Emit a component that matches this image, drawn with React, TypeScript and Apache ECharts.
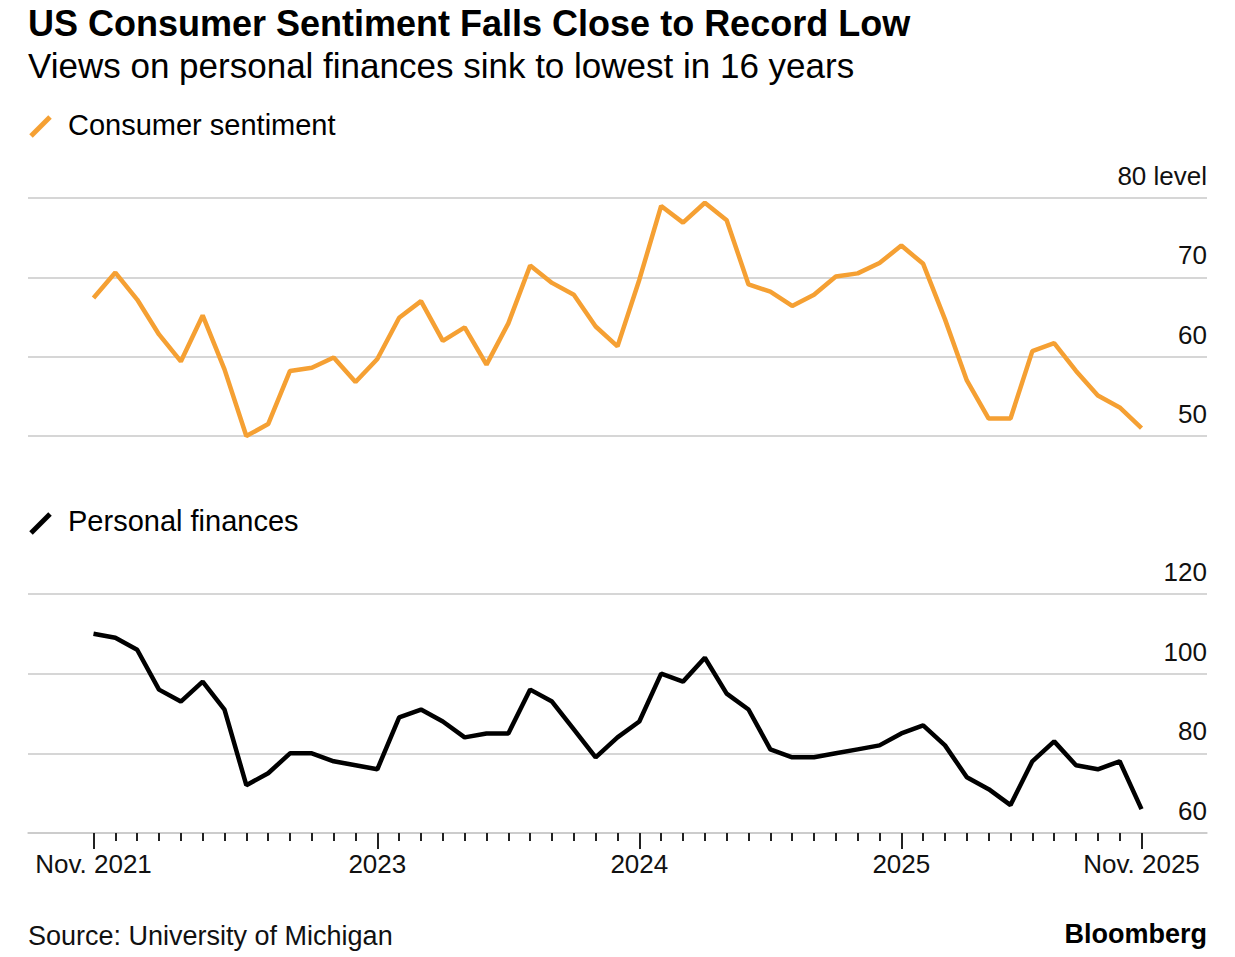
import React, { useEffect, useRef } from "react";
import * as echarts from "echarts";

// Monthly, Nov 2021 .. Nov 2025 (index 0..48)
const startYear = 2021;
const startMonth = 10; // November (0-based)
const months: string[] = [];
for (let i = 0; i < 49; i++) {
  const m = (startMonth + i) % 12;
  const y = startYear + Math.floor((startMonth + i) / 12);
  months.push(`${y}-${String(m + 1).padStart(2, "0")}`);
}

const sentiment = [
  67.4, 70.6, 67.2, 62.8, 59.4, 65.2, 58.4, 50.0, 51.5, 58.2, 58.6, 59.9,
  56.8, 59.7, 64.9, 67.0, 62.0, 63.7, 59.0, 64.2, 71.5, 69.3, 67.8, 63.8,
  61.3, 69.7, 79.0, 76.9, 79.4, 77.2, 69.1, 68.2, 66.4, 67.8, 70.1, 70.5,
  71.8, 74.0, 71.7, 64.7, 57.0, 52.2, 52.2, 60.7, 61.7, 58.2, 55.1, 53.6,
  51.0,
];

const finances = [
  110, 109, 106, 96, 93, 98, 91, 72, 75, 80, 80, 78,
  77, 76, 89, 91, 88, 84, 85, 85, 96, 93, 86, 79,
  84, 88, 100, 98, 104, 95, 91, 81, 79, 79, 80, 81,
  82, 85, 87, 82, 74, 71, 67, 78, 83, 77, 76, 78,
  66,
];

const xLabelIndex = [0, 13, 25, 37, 48];
const xLabelText = ["Nov. 2021", "2023", "2024", "2025", "Nov. 2025"];

const topTicks = [50, 60, 70, 80];
const bottomTicks = [60, 80, 100, 120];

const ORANGE = "#F5A033";
const BLACK = "#000000";
const GRID = "#c9c9c9";
const FONT = '"Liberation Sans", Arial, Helvetica, sans-serif';

export default function App() {
  const ref = useRef<HTMLDivElement>(null);

  useEffect(() => {
    if (!ref.current) return;
    const chart = echarts.init(ref.current, undefined, { renderer: "svg" });

    const yAxisCommon = (ticks: number[], unitTop?: string) => ({
      type: "value",
      position: "right",
      min: ticks[0],
      max: ticks[ticks.length - 1],
      interval: ticks[1] - ticks[0],
      axisLine: { show: false },
      axisTick: { show: false },
      splitLine: { show: true, lineStyle: { color: GRID, width: 1.5 } },
      axisLabel: {
        inside: true,
        margin: 0,
        align: "right",
        verticalAlign: "bottom",
        padding: [0, 0, 9, 0],
        lineHeight: 26,
        color: "#111",
        fontFamily: FONT,
        fontSize: 26,
        formatter: (v: number) =>
          unitTop && v === ticks[ticks.length - 1] ? `${v} ${unitTop}` : `${v}`,
      },
    });

    const tickIdx = months.map((_, i) => i);

    const option: any = {
      animation: false,
      textStyle: { fontFamily: FONT },
      grid: [
        { left: 28, right: 28, top: 198, height: 238 },
        { left: 28, right: 28, top: 594, height: 239 },
      ],
      xAxis: [
        {
          type: "value",
          gridIndex: 0,
          min: -3,
          max: 51,
          show: false,
          splitLine: { show: false },
        },
        {
          type: "value",
          gridIndex: 1,
          min: -3,
          max: 51,
          position: "bottom",
          axisLine: { show: true, lineStyle: { color: GRID, width: 1.5 } },
          axisTick: {
            show: true,
            customValues: tickIdx,
            length: 8,
            lineStyle: { color: "#222", width: 2 },
          },
          axisLabel: { show: false },
          splitLine: { show: false },
        },
        {
          type: "value",
          gridIndex: 1,
          min: -3,
          max: 51,
          position: "bottom",
          axisLine: { show: false },
          axisTick: {
            show: true,
            customValues: xLabelIndex,
            length: 16,
            lineStyle: { color: "#222", width: 2 },
          },
          axisLabel: {
            show: true,
            customValues: xLabelIndex,
            margin: 18,
            color: "#111",
            fontFamily: FONT,
            fontSize: 26,
            formatter: (v: number) => {
              const k = xLabelIndex.indexOf(Math.round(v));
              return k >= 0 ? xLabelText[k] : "";
            },
          },
          splitLine: { show: false },
        },
      ],
      yAxis: [
        { ...yAxisCommon(topTicks, "level"), gridIndex: 0 },
        { ...yAxisCommon(bottomTicks), gridIndex: 1 },
      ],
      series: [
        {
          name: "Consumer sentiment",
          type: "line",
          xAxisIndex: 0,
          yAxisIndex: 0,
          data: sentiment.map((v, i) => [i, v]),
          showSymbol: false,
          lineStyle: { color: ORANGE, width: 4.5 },
          itemStyle: { color: ORANGE },
        },
        {
          name: "Personal finances",
          type: "line",
          xAxisIndex: 1,
          yAxisIndex: 1,
          data: finances.map((v, i) => [i, v]),
          showSymbol: false,
          lineStyle: { color: BLACK, width: 4.5 },
          itemStyle: { color: BLACK },
        },
      ],
      graphic: [
        {
          type: "text",
          x: 28,
          y: 23,
          style: {
            text: "US Consumer Sentiment Falls Close to Record Low",
            font: `bold 36px ${FONT}`,
            fill: "#000",
            align: "left",
            verticalAlign: "middle",
          },
        },
        {
          type: "text",
          x: 28,
          y: 65,
          style: {
            text: "Views on personal finances sink to lowest in 16 years",
            font: `35px ${FONT}`,
            fill: "#000",
            align: "left",
            verticalAlign: "middle",
          },
        },
        {
          type: "line",
          shape: { x1: 31, y1: 136, x2: 50, y2: 117 },
          style: { stroke: ORANGE, lineWidth: 5 },
        },
        {
          type: "text",
          x: 68,
          y: 125,
          style: {
            text: "Consumer sentiment",
            font: `29px ${FONT}`,
            fill: "#000",
            align: "left",
            verticalAlign: "middle",
          },
        },
        {
          type: "line",
          shape: { x1: 31, y1: 533, x2: 50, y2: 514 },
          style: { stroke: BLACK, lineWidth: 5 },
        },
        {
          type: "text",
          x: 68,
          y: 521,
          style: {
            text: "Personal finances",
            font: `29px ${FONT}`,
            fill: "#000",
            align: "left",
            verticalAlign: "middle",
          },
        },
        {
          type: "text",
          x: 28,
          y: 936,
          style: {
            text: "Source: University of Michigan",
            font: `27px ${FONT}`,
            fill: "#111",
            align: "left",
            verticalAlign: "middle",
          },
        },
        {
          type: "text",
          x: 1207,
          y: 934,
          style: {
            text: "Bloomberg",
            font: `bold 27px ${FONT}`,
            fill: "#000",
            align: "right",
            verticalAlign: "middle",
          },
        },
      ],
    };

    chart.setOption(option);
    return () => chart.dispose();
  }, []);

  return (
    <div
      ref={ref}
      style={{
        position: "absolute",
        left: 0,
        top: 0,
        width: 1235,
        height: 957,
        background: "#fff",
      }}
    />
  );
}
